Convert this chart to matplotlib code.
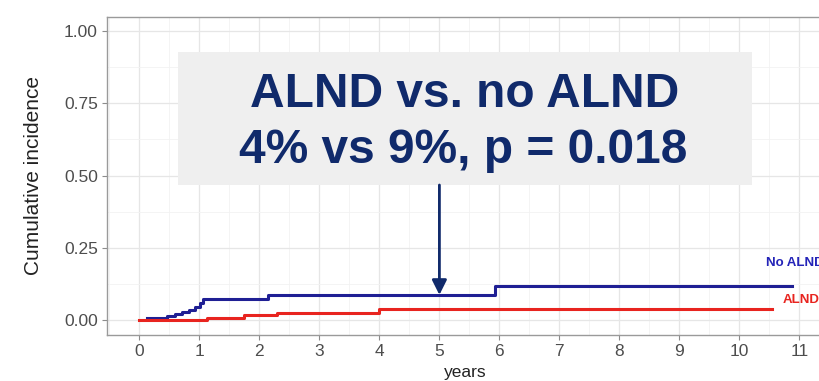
import matplotlib.pyplot as plt
import numpy as np

# curve di incidenza cumulativa (funzioni a gradini)
t_no_alnd = [0.13, 0.46, 0.60, 0.71, 0.82, 0.93, 1.01, 1.06, 2.15, 5.92, 10.87]
ci_no_alnd = [0.008, 0.014, 0.020, 0.029, 0.035, 0.046, 0.059, 0.073, 0.087, 0.119, 0.119]

t_alnd = [0.0, 1.13, 1.74, 2.30, 4.00, 10.55]
ci_alnd = [0.0, 0.007, 0.017, 0.025, 0.038, 0.038]

x_ticks = list(range(0, 12))
y_ticks = [0.00, 0.25, 0.50, 0.75, 1.00]

titolo = ["ALND vs. no ALND", "4% vs 9%, p = 0.018"]
t_freccia = 5
blu = "#1f1f94"
rosso = "#e8241f"
navy = "#102a6b"
grigio = "#4d4d4d"

plt.rcParams['font.family'] = ['Liberation Sans', 'DejaVu Sans']

fig = plt.figure(figsize=(8.2, 3.81), dpi=100)
ax = fig.add_axes([107/820, 46.5/381, 717/820, 318/381])

ax.set_xlim(-0.54, 11.41)
ax.set_ylim(-0.05, 1.05)

# griglia stile theme_bw
ax.set_xticks(x_ticks)
ax.set_yticks(y_ticks)
ax.set_xticks(np.arange(-0.5, 11.5, 1), minor=True)
ax.set_yticks(np.arange(0.125, 1.0, 0.25), minor=True)
ax.grid(which='major', color='#e6e6e6', lw=0.9)
ax.grid(which='minor', color='#f2f2f2', lw=0.6)
ax.set_axisbelow(True)
ax.set_yticklabels(["%.2f" % v for v in y_ticks])
ax.tick_params(which='major', length=3.5, color='#8c8c8c', labelcolor=grigio, labelsize=12.5, pad=3)
ax.tick_params(which='minor', length=0)
for s in ax.spines.values():
    s.set_color('#9a9a9a')
    s.set_linewidth(1.0)

ax.step(t_no_alnd, ci_no_alnd, where='post', color=blu, lw=2.2)
ax.step(t_alnd, ci_alnd, where='post', color=rosso, lw=2.2)

ax.text(10.45, 0.197, "No ALND", color="#2424b8", fontsize=9.5, fontweight='bold', va='center', ha='left')
ax.text(10.72, 0.068, "ALND", color=rosso, fontsize=9.5, fontweight='bold', va='center', ha='left')

ax.set_xlabel("years", fontsize=12.5, color='#222222', labelpad=5)
ax.set_ylabel("Cumulative incidence", fontsize=15, color='#222222', labelpad=15)

# riquadro con il confronto
box_x0 = (178-139)/60.1
box_x1 = (753-139)/60.1
box_y0 = (320-185)/289
box_y1 = (320-52)/289
ax.add_patch(plt.Rectangle((box_x0, box_y0), box_x1-box_x0, box_y1-box_y0,
                           facecolor='#efefef', edgecolor='none', zorder=4))
xc = (box_x0+box_x1)/2
ax.text(xc-0.02, 0.78, titolo[0], color=navy, fontsize=34.5, fontweight='bold',
        ha='center', va='center', zorder=5)
ax.text(xc-0.04, 0.585, titolo[1], color=navy, fontsize=34.5, fontweight='bold',
        ha='center', va='center', zorder=5)

ax.annotate("", xy=(t_freccia, ci_no_alnd[8]), xytext=(t_freccia, box_y0),
            arrowprops=dict(arrowstyle='-|>', color=navy, lw=2, mutation_scale=22,
                            shrinkA=0, shrinkB=0), zorder=5)

fig.savefig("out.png", dpi=100)
